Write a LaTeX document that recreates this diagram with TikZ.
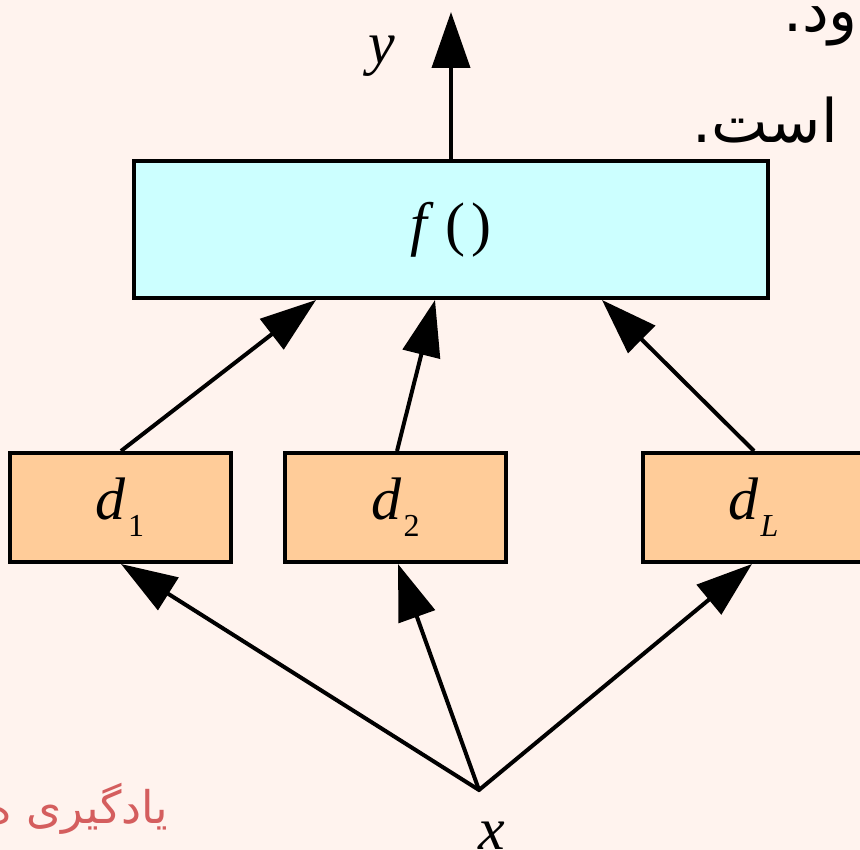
\documentclass[tikz,border=0pt]{standalone}
\usepackage{fontspec}
\setmainfont{Liberation Serif}
\newfontfamily\fafont[Script=Arabic]{DejaVu Sans}
\TeXXeTstate=1
\usetikzlibrary{arrows.meta}
\definecolor{bg}{HTML}{FFF3EE}
\definecolor{fcyan}{HTML}{CCFFFF}
\definecolor{dorange}{HTML}{FFCC99}
\definecolor{fared}{HTML}{D45E5E}
\tikzset{
  blockbox/.style={draw=black, line width=4pt, inner sep=0pt, font=\fontsize{60}{62}\selectfont},
  dbox/.style={blockbox, fill=dorange, minimum width=221pt, minimum height=109pt},
  conn/.style={line width=4pt, -{Triangle[length=56pt,width=38pt]}},
  lbl/.style={inner sep=0pt, font=\fontsize{60}{62}\selectfont\itshape},
  fatext/.style={inner sep=0pt, font=\fafont\fontsize{60}{64}\selectfont},
}
\newcommand{\subsc}[1]{\raisebox{-17pt}{\fontsize{32}{32}\selectfont #1}}
\begin{document}
\begin{tikzpicture}[x=1pt,y=-1pt]
\useasboundingbox (0,0) rectangle (860,850);
\clip (0,0) rectangle (860,850);
\fill[bg] (0,0) rectangle (860,850);

% Persian text fragments
\node[fatext, anchor=base east] (t1) at (858,32) {\beginR ود.\endR};
\node[fatext, anchor=base east] (t2) at (838,143) {\beginR است.\endR};
\node[inner sep=0pt, anchor=base east, text=fared, font=\fafont\fontsize{45}{50}\selectfont] (t3) at (168,823) {\beginR یادگیری ه\endR};

% blocks
\node[blockbox, fill=fcyan, minimum width=634pt, minimum height=137pt] (f) at (451,229.5) {\textit{f}\hspace{12pt}(\hspace{6pt})\hspace{26pt}};
\node[dbox] (d1) at (120,507.5) {\textit{d}\hspace{2pt}\subsc{1}};
\node[dbox] (d2) at (395.5,507.5) {\textit{d}\hspace{2pt}\subsc{2}};
\node[dbox] (dL) at (753.5,507.5) {\textit{d}\hspace{2pt}\subsc{\textit{L}}};

% points
\coordinate (ytip) at (451,12);
\coordinate (xpt) at (479,790);
\coordinate (f1) at ([xshift=184pt]f.south west);
\coordinate (f2) at ([xshift=303pt]f.south west);
\coordinate (f3) at ([xshift=470pt]f.south west);

\node[lbl] (ylab) at (382,56) {y};
\node[lbl] (xlab) at (492,836) {x};

% connectors
\draw[conn] (f.north) -- (ytip);
\draw[conn] ([xshift=1pt]d1.north) -- (f1);
\draw[conn] ([xshift=1.5pt]d2.north) -- (f2);
\draw[conn] ([xshift=0.5pt]dL.north) -- (f3);
\draw[conn, shorten <=-1pt] (xpt) -- ([xshift=1pt]d1.south);
\draw[conn] (xpt) -- ([xshift=2.5pt]d2.south);
\draw[conn, shorten <=-1pt] (xpt) -- ([xshift=-1.5pt]dL.south);
\end{tikzpicture}
\end{document}
